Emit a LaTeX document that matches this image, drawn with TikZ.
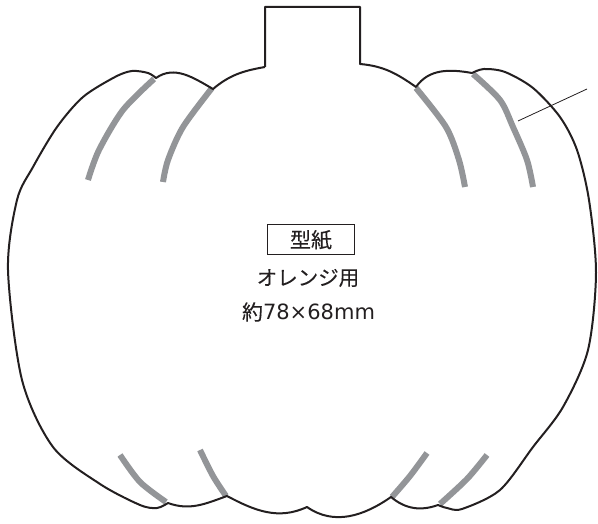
\documentclass[tikz,border=0pt]{standalone}
\usepackage{fontspec}
\setmainfont[FakeBold=0.15]{Noto Sans CJK JP}
\newfontfamily\latn{DejaVu Sans}
\definecolor{ink}{HTML}{231F20}
\definecolor{rib}{HTML}{939598}
\begin{document}
\begin{tikzpicture}[x=1pt,y=1pt,
  outline/.style={draw=ink,line width=2pt,line join=round},
  ribline/.style={draw=rib,line width=6pt},
  lbl/.style={text=ink,font=\fontsize{20.5}{20.5}\selectfont,inner sep=0pt}]
\useasboundingbox (0,0) rectangle (598,524);
% ribs
\draw[ribline] plot[smooth] coordinates {(154,445) (123,414) (99,374) (88,344)};
\draw[ribline] plot[smooth] coordinates {(212,436) (183,397) (168,364) (163,342)};
\draw[ribline] plot[smooth] coordinates {(416,436) (446,397) (459,364) (465,337)};
\draw[ribline] plot[smooth] coordinates {(473,450) (500,424) (513,397) (527,364) (533,337)};
\draw[ribline] plot[smooth] coordinates {(120,69) (140,42) (166,22)};
\draw[ribline] plot[smooth] coordinates {(200,74) (213,48) (226,28)};
\draw[ribline] plot[smooth] coordinates {(427,71) (410,48) (392,27)};
\draw[ribline] plot[smooth] coordinates {(487,69) (467,45) (440,20)};
% outline
\draw[outline] (265,457) -- (265,517) -- (360,517) -- (360,460)
  to[out=-5,in=145] (416,437)
  to[out=55,in=170] (472,451)
  -- plot[smooth] coordinates {(472,451) (484,455) (505,452) (533,436) (560,407) (577,374) (589,324) (596,251) (588,174) (563,117) (533,77) (500,34) (462,15) (447,16) (438,19)}
  to[out=200,in=-40] (391,27)
  to[out=215,in=-35] (307,17)
  to[out=205,in=-28] (227,28)
  to[out=200,in=-20] (168,21)
  -- plot[smooth] coordinates {(168,21) (157,16) (140,19) (100,40) (53,77) (22,144) (8,254) (17,324) (33,357) (57,397) (83,427) (115,447) (132,453) (148,451) (156,446)}
  to[out=35,in=150] (213,435)
  to[out=40,in=190] (265,457);
% leader
\coordinate (ldA) at (518,403);
\coordinate (ldB) at (587,435);
\draw[ink,line width=0.8pt] (ldA) -- (ldB);
% labels
\node[lbl,font=\fontsize{21}{21}\selectfont,draw=ink,line width=1pt,minimum width=87pt,minimum height=30pt] (kata) at (311,284) {型紙};
\node[lbl] (orange) at (308,246) {オレンジ用};
\node[lbl,font=\fontsize{21}{21}\selectfont] (size) at (308.5,212) {約{\latn 78×68mm}};
\end{tikzpicture}
\end{document}
